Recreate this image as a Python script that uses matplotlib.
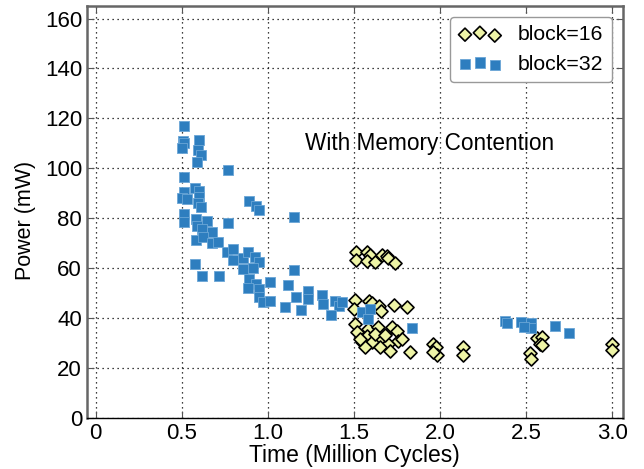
import matplotlib
matplotlib.use("Agg")
import matplotlib.pyplot as plt

plt.rcParams['font.family'] = ['Liberation Sans', 'DejaVu Sans']

# block=32 points (time in million cycles, power in mW)
t32 = [0.515, 0.602, 0.510, 0.515, 0.504, 0.596, 0.614, 0.591, 0.770, 0.515,
       0.579, 0.602, 0.515, 0.504, 0.533, 0.602, 0.596, 0.614, 0.892, 0.932,
       0.950, 1.152, 0.515, 0.515, 0.585, 0.591, 0.649, 0.770, 0.620, 0.677,
       0.585, 0.625, 0.677, 0.712, 0.764, 0.799, 0.799, 0.857, 0.886, 0.926,
       0.950, 0.857, 0.915, 0.579, 0.620, 0.718, 1.152, 0.892, 0.932, 0.886,
       0.950, 1.013, 0.950, 0.973, 1.013, 1.118, 1.164, 1.233, 1.233, 1.100,
       1.193, 1.314, 1.320, 1.390, 1.413, 1.430, 1.367, 1.546, 1.592, 1.581,
       1.836, 2.374, 2.391, 2.472, 2.530, 2.530, 2.484, 2.664, 2.750]
p32 = [116.8, 111.2, 110.8, 110.0, 108.0, 107.2, 105.2, 102.4, 99.2, 96.4,
       92.0, 90.8, 90.4, 88.0, 87.6, 88.4, 86.0, 84.4, 86.8, 84.8,
       83.2, 80.4, 81.6, 78.4, 79.6, 76.8, 78.8, 78.0, 75.6, 74.4,
       71.2, 72.4, 70.0, 70.4, 66.4, 67.6, 63.2, 64.0, 66.4, 64.4,
       62.4, 59.6, 60.0, 61.6, 56.8, 56.8, 59.2, 55.6, 53.6, 52.0,
       51.6, 54.4, 48.4, 46.4, 46.8, 53.2, 48.4, 50.8, 47.6, 44.4,
       43.2, 49.2, 45.6, 46.8, 44.8, 46.4, 41.2, 42.4, 43.6, 39.6,
       36.0, 38.8, 38.0, 38.4, 38.0, 36.0, 36.4, 36.8, 34.0]

# block=16 points
t16 = [1.511, 1.511, 1.575, 1.592, 1.575, 1.621, 1.662, 1.691, 1.697, 1.737,
       1.505, 1.500, 1.587, 1.604, 1.644, 1.656, 1.731, 1.807, 1.505, 1.517,
       1.581, 1.575, 1.639, 1.650, 1.720, 1.749, 1.754, 1.546, 1.604, 1.697,
       1.778, 1.563, 1.650, 1.708, 1.824, 1.957, 1.975, 1.980, 1.957, 2.131,
       2.131, 1.534, 1.621, 1.679, 2.565, 2.594, 2.577, 2.594, 2.519, 2.525,
       2.999, 2.999]
p16 = [66.4, 63.2, 66.4, 65.2, 62.8, 62.4, 65.2, 64.8, 64.0, 62.0,
       47.2, 43.6, 46.8, 46.0, 44.8, 42.8, 45.2, 44.4, 37.6, 34.4,
       35.6, 32.8, 36.4, 31.6, 36.4, 34.8, 30.8, 30.4, 30.4, 29.6,
       31.6, 28.4, 28.4, 26.8, 26.4, 29.6, 28.4, 25.2, 26.4, 28.4,
       25.2, 31.6, 33.6, 33.2, 32.0, 32.4, 29.6, 29.2, 26.0, 23.6,
       29.6, 27.2]

fig = plt.figure(figsize=(6.44, 4.69), dpi=100)
ax = fig.add_axes([0.135, 0.109, 0.832, 0.878])

ax.scatter(t16, p16, marker='D', s=44, facecolor='#eef4a6', edgecolor='black',
           linewidths=1.2, label='block=16', zorder=3)
ax.scatter(t32, p32, marker='s', s=56, facecolor='#2e7ebf', edgecolor='#6aa6d6',
           linewidths=0.6, label='block=32', zorder=3)

ax.text(1.215, 110, 'With Memory Contention', fontsize=16.3, va='center', ha='left')

ax.set_xlim(-0.05, 3.06)
ax.set_ylim(0, 165)
ax.set_xticks([0, 0.5, 1.0, 1.5, 2.0, 2.5, 3.0])
ax.set_xticklabels(['0', '0.5', '1.0', '1.5', '2.0', '2.5', '3.0'])
ax.set_yticks(range(0, 161, 20))
ax.grid(True, color='black', linestyle=(0, (1, 3)), linewidth=0.9)
ax.set_axisbelow(True)
ax.tick_params(labelsize=16, direction='in', top=True, right=True,
               length=5, color='#555555')
for side in ['left', 'right', 'top']:
    ax.spines[side].set_color('#666666')
    ax.spines[side].set_linewidth(1.8)
ax.spines['bottom'].set_color('black')
ax.spines['bottom'].set_linewidth(1.0)

ax.set_xlabel('Time (Million Cycles)', fontsize=16.5, labelpad=0)
ax.set_ylabel('Power (mW)', fontsize=15.5)
ax.yaxis.set_label_coords(-0.095, 0.48)

leg = ax.legend(loc='upper right', scatterpoints=3, fontsize=15.3, fancybox=True,
                framealpha=1, edgecolor='#999999', handletextpad=0.8,
                borderaxespad=0.5, labelspacing=0.5)

fig.savefig('out.png', dpi=100)
